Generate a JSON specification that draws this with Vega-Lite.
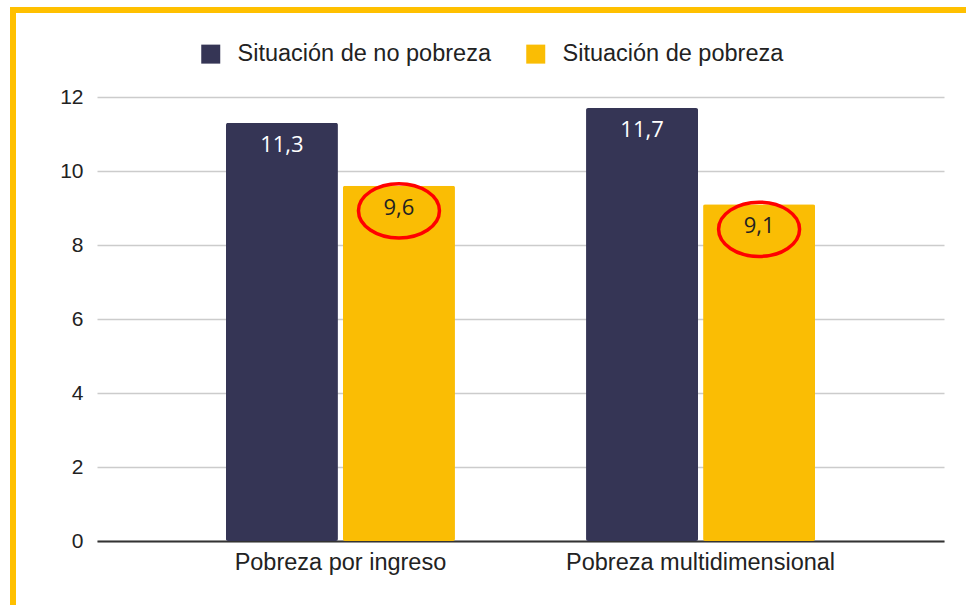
{
  "$schema": "https://vega.github.io/schema/vega-lite/v6.json",
  "width": 847,
  "height": 444,
  "autosize": {"type": "none"},
  "padding": {"left": 97, "top": 97, "right": 22, "bottom": 64},
  "background": "white",
  "config": {
    "view": {"stroke": null},
    "locale": {"number": {"decimal": ",", "thousands": ".", "grouping": [3], "currency": ["", " €"]}},
    "font": "Liberation Sans"
  },
  "data": {
    "values": [
      {"categoria": "Pobreza por ingreso", "serie": "Situación de no pobreza", "valor": 11.3},
      {"categoria": "Pobreza por ingreso", "serie": "Situación de pobreza", "valor": 9.6},
      {"categoria": "Pobreza multidimensional", "serie": "Situación de no pobreza", "valor": 11.7},
      {"categoria": "Pobreza multidimensional", "serie": "Situación de pobreza", "valor": 9.1}
    ]
  },
  "encoding": {
    "x": {
      "field": "categoria", "type": "nominal", "sort": null,
      "scale": {"paddingInner": 0.364, "paddingOuter": 0.358},
      "axis": {
        "title": null, "labelAngle": 0, "ticks": false, "domain": true,
        "domainColor": "#333333", "domainWidth": 2, "labelFontSize": 23.5,
        "labelColor": "#222222", "labelPadding": 9, "labelFont": "Liberation Sans",
        "labelLimit": 500
      }
    },
    "xOffset": {
      "field": "serie", "type": "nominal", "sort": null,
      "scale": {"paddingInner": 0.043, "paddingOuter": 0}
    },
    "y": {
      "field": "valor", "type": "quantitative",
      "scale": {"domain": [0, 12], "nice": false},
      "axis": {
        "title": null, "values": [0, 2, 4, 6, 8, 10, 12], "domain": false, "ticks": false,
        "gridColor": "#cccccc", "gridWidth": 1.3, "labelFontSize": 21, "labelColor": "#222222",
        "labelPadding": 14, "labelFont": "Liberation Sans"
      }
    }
  },
  "layer": [
    {
      "mark": {"type": "bar", "cornerRadius": 2},
      "encoding": {
        "color": {
          "field": "serie", "type": "nominal",
          "scale": {"domain": ["Situación de no pobreza", "Situación de pobreza"], "range": ["#353555", "#fabd04"]},
          "legend": {
            "title": null, "orient": "none", "direction": "horizontal",
            "legendX": 102, "legendY": -55,
            "symbolType": "square", "symbolSize": 361, "symbolStrokeWidth": 0,
            "labelFontSize": 23.5, "labelColor": "#222222", "labelFont": "Liberation Sans",
            "labelOffset": 15, "columnPadding": 33, "labelLimit": 400
          }
        }
      }
    },
    {
      "mark": {"type": "text", "baseline": "middle", "dy": 22, "font": "Open Sans", "fontSize": 22},
      "encoding": {
        "text": {"field": "valor", "type": "quantitative", "format": ".1f"},
        "color": {
          "condition": {"test": "datum.serie === 'Situación de no pobreza'", "value": "#ffffff"},
          "value": "#222222"
        }
      }
    },
    {
      "transform": [{"filter": "datum.serie === 'Situación de pobreza'"}],
      "mark": {
        "type": "point",
        "shape": "M-1,0A1,0.67,0,1,1,1,0A1,0.67,0,1,1,-1,0Z",
        "size": 6561, "filled": false, "stroke": "#ff0000", "strokeWidth": 3.5,
        "opacity": 1, "yOffset": 25, "xOffset": 4
      }
    },
    {
      "mark": {"type": "rule", "color": "#ffc000", "strokeWidth": 6},
      "encoding": {
        "x": {"value": -84}, "y": {"value": -90}, "y2": {"value": 520},
        "xOffset": null
      }
    },
    {
      "mark": {"type": "rule", "color": "#ffc000", "strokeWidth": 6},
      "encoding": {
        "x": {"value": -87}, "x2": {"value": 880}, "y": {"value": -87},
        "xOffset": null
      }
    }
  ]
}
